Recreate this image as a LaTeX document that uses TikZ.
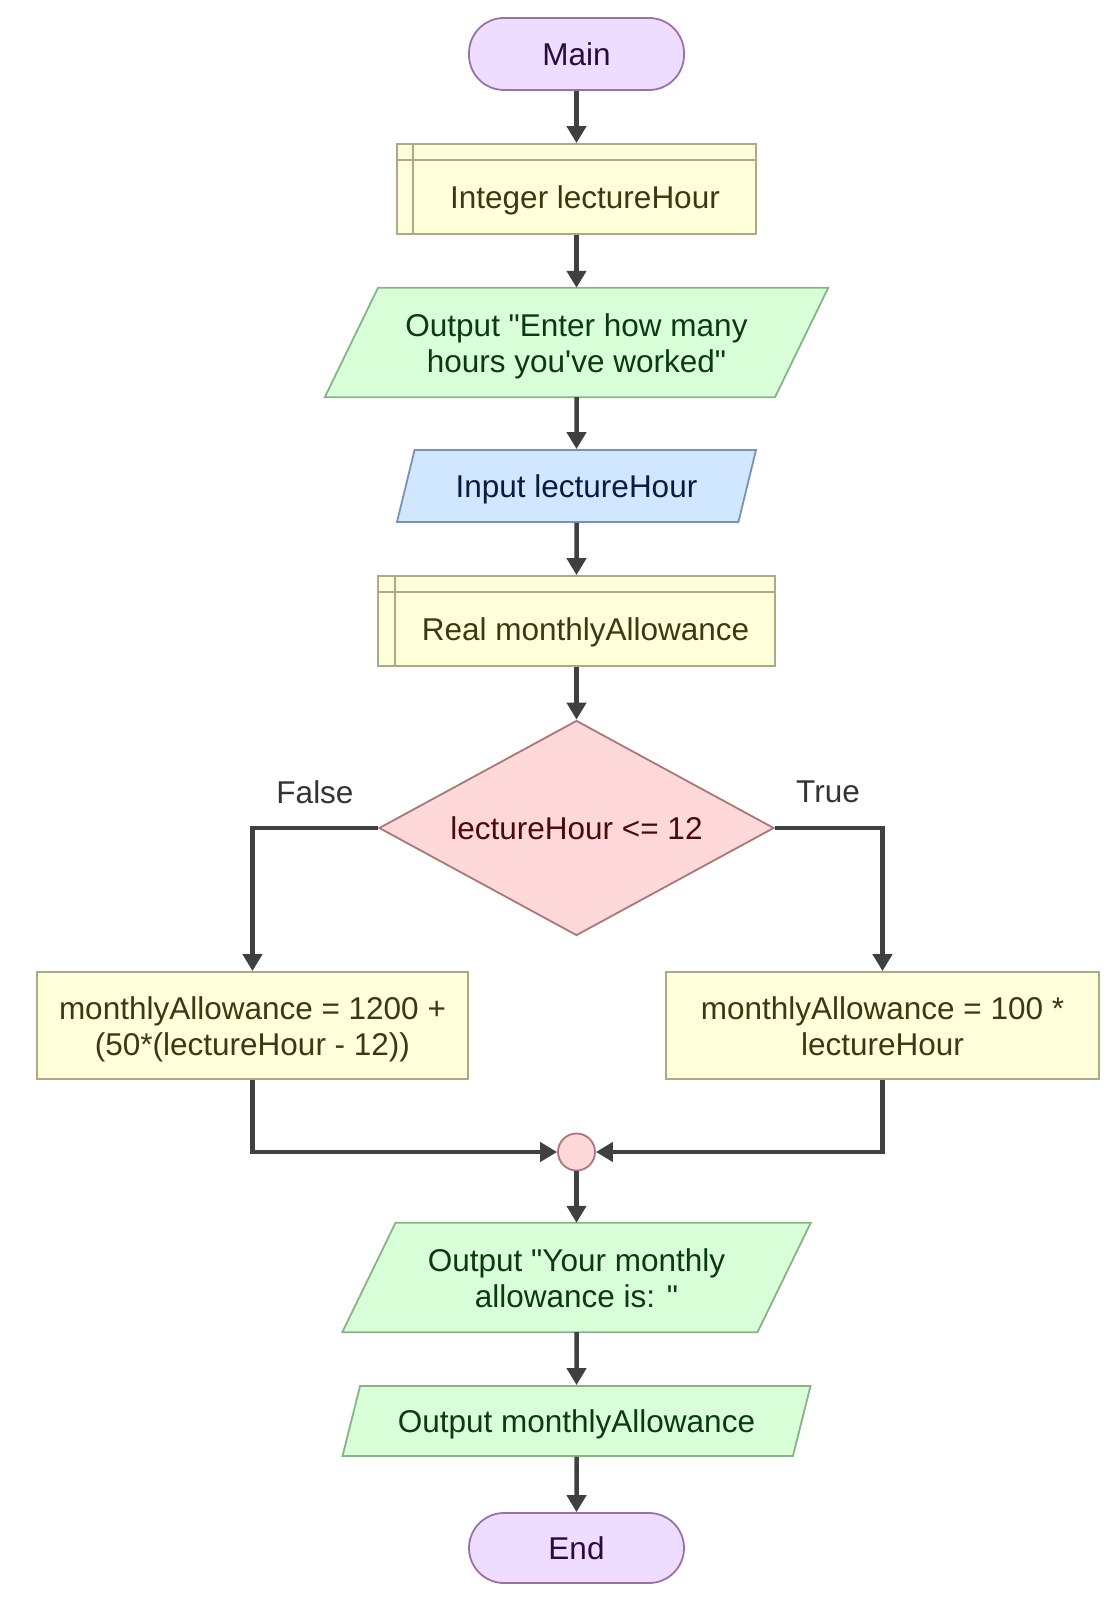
\documentclass[tikz,border=0pt]{standalone}
\usepackage{fontspec}
\setmainfont{Liberation Sans}[Ligatures=TeXOff]
\usetikzlibrary{shapes.geometric, arrows.meta, backgrounds}
\definecolor{termfill}{HTML}{EEDDFF}
\definecolor{termdraw}{HTML}{9A72A8}
\definecolor{termtext}{HTML}{2A0A40}
\definecolor{declfill}{HTML}{FFFFDB}
\definecolor{decldraw}{HTML}{AAAA86}
\definecolor{decltext}{HTML}{3A3A0E}
\definecolor{outfill}{HTML}{D9FFD9}
\definecolor{outdraw}{HTML}{86B486}
\definecolor{outtext}{HTML}{0A3A12}
\definecolor{infill}{HTML}{D1E7FF}
\definecolor{indraw}{HTML}{7A92B4}
\definecolor{intext}{HTML}{0A1A40}
\definecolor{decfill}{HTML}{FFD9D9}
\definecolor{decdraw}{HTML}{A87878}
\definecolor{dectext}{HTML}{4A0A0A}
\definecolor{arrowc}{HTML}{404040}
\definecolor{lblc}{HTML}{333333}
\newcommand{\mystrut}{\rule[-6.5pt]{0pt}{36pt}}
\newcommand{\myfont}{\fontsize{31.5}{36}\selectfont\lineskiplimit=-100pt\relax}
\begin{document}
\begin{tikzpicture}[x=1pt,y=-1pt,
  base/.style={font=\myfont, align=center, inner sep=0pt, line width=1.8pt, execute at begin node={\mystrut}},
  term/.style={base, rectangle, rounded corners=35pt, draw=termdraw, fill=termfill, text=termtext, minimum width=215pt},
  decl/.style={base, rectangle, draw=decldraw, fill=declfill, text=decltext},
  declline/.style={draw=decldraw, line width=1.8pt},
  txtonly/.style={base},
  holder/.style={rectangle, inner sep=0pt, draw=none},
  io/.style={base, trapezium, trapezium left angle=64, trapezium right angle=116, trapezium stretches body},
  outp/.style={io, draw=outdraw, fill=outfill, text=outtext},
  outpath/.style={draw=outdraw, fill=outfill, line width=1.8pt},
  inp/.style={io, draw=indraw, fill=infill, text=intext},
  dec/.style={base, diamond, draw=decdraw, fill=decfill, text=dectext, shape aspect=1.84},
  merge/.style={circle, draw=decdraw, fill=decfill, line width=1.8pt, minimum size=37pt, inner sep=0pt},
  flow/.style={draw=arrowc, line width=4.5pt, -{Triangle[width=19pt,length=17pt]}},
  lbl/.style={font=\fontsize{31.5}{36}\selectfont, text=lblc, inner sep=0pt}
]
\useasboundingbox (0,0) rectangle (1117,1603);

\node[term, minimum height=72pt] (main) at (576.5,54) {Main};

\node[decl, minimum width=359pt, minimum height=90pt] (d1) at (576.5,189) {};
\draw[declline] ([xshift=17pt]d1.north west) -- ([xshift=17pt]d1.south west);
\draw[declline] ([yshift=-17pt]d1.north west) -- ([yshift=-17pt]d1.north east);
\node[txtonly, text=decltext] (d1t) at ([xshift=8.5pt,yshift=-8pt]d1.center) {Integer lectureHour};

\node[holder, minimum width=449.8pt, minimum height=109pt] (o1) at (576.5,342.5) {};
\begin{scope}[on background layer]
\path[outpath] ([xshift=26.6pt]o1.north west) -- ([xshift=26.6pt]o1.north east) -- ([xshift=-26.6pt]o1.south east) -- ([xshift=-26.6pt]o1.south west) -- cycle;
\end{scope}
\node[txtonly, text=outtext] (o1t) at ([yshift=-3.5pt]o1.center) {Output "Enter how many\\\mystrut hours you've worked"};

\node[inp, minimum width=359pt, minimum height=72pt] (in) at (576.5,486) {Input lectureHour};

\node[decl, minimum width=397pt, minimum height=90pt] (d2) at (576.5,621) {};
\draw[declline] ([xshift=18pt]d2.north west) -- ([xshift=18pt]d2.south west);
\draw[declline] ([yshift=-17pt]d2.north west) -- ([yshift=-17pt]d2.north east);
\node[txtonly, text=decltext] (d2t) at ([xshift=9pt,yshift=-8pt]d2.center) {Real monthlyAllowance};

\node[dec, minimum width=395pt, minimum height=215pt] (dia) at (576.5,828) {lectureHour <= 12};

\node[decl, minimum width=431pt, minimum height=107pt] (pl) at (252.5,1025.5) {};
\node[txtonly, text=decltext] (plt) at ([yshift=-3.5pt]pl.center) {monthlyAllowance = 1200 +\\\mystrut(50*(lectureHour - 12))};
\node[decl, minimum width=433pt, minimum height=107pt] (pr) at (882.5,1025.5) {};
\node[txtonly, text=decltext] (prt) at ([yshift=-3.5pt]pr.center) {monthlyAllowance = 100 *\\\mystrut lectureHour};

\node[merge] (m) at (576.5,1152) {};

\node[holder, minimum width=414.8pt, minimum height=109pt] (o2) at (576.5,1277.5) {};
\begin{scope}[on background layer]
\path[outpath] ([xshift=26.6pt]o2.north west) -- ([xshift=26.6pt]o2.north east) -- ([xshift=-26.6pt]o2.south east) -- ([xshift=-26.6pt]o2.south west) -- cycle;
\end{scope}
\node[txtonly, text=outtext] (o2t) at ([yshift=-3.5pt]o2.center) {Output "Your monthly\\\mystrut allowance is: "};

\node[outp, minimum width=468pt, minimum height=70pt] (o3) at (576.5,1421) {Output monthlyAllowance};

\node[term, minimum height=70pt] (end) at (576.5,1548) {End};

\node[lbl] (lf) at (315,792) {False};
\node[lbl] (lt) at (828,792) {True};

\draw[flow] (main.south) -- (d1.north);
\draw[flow] (d1.south) -- (o1.north);
\draw[flow] (o1.south) -- (in.north);
\draw[flow] (in.south) -- (d2.north);
\draw[flow] (d2.south) -- (dia.north);
\draw[flow] (dia.west) -| (pl.north);
\draw[flow] (dia.east) -| (pr.north);
\draw[flow] (pl.south) |- (m.west);
\draw[flow] (pr.south) |- (m.east);
\draw[flow] (m.south) -- (o2.north);
\draw[flow] (o2.south) -- (o3.north);
\draw[flow] (o3.south) -- (end.north);
\end{tikzpicture}
\end{document}
